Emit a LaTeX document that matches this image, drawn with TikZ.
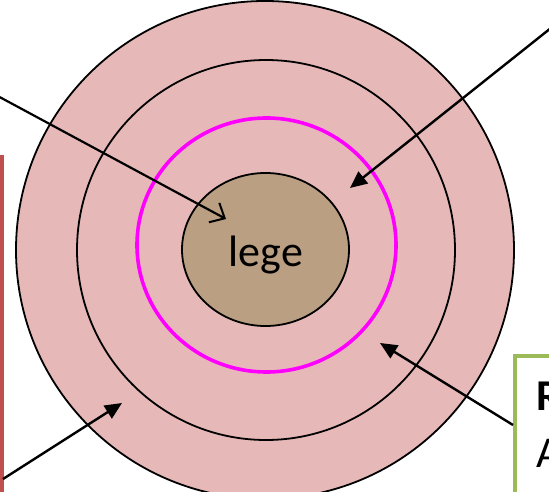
\documentclass[tikz,border=0pt]{standalone}
\usepackage{fontspec}
\setmainfont{Carlito}
\usetikzlibrary{arrows.meta,shapes.geometric}
\definecolor{ringpink}{HTML}{E6B9B8}
\definecolor{coretan}{HTML}{BB9F83}
\definecolor{boxred}{HTML}{C0504D}
\definecolor{boxgreen}{HTML}{9BBB59}
\definecolor{ringmagenta}{RGB}{255,0,255}
\begin{document}
\begin{tikzpicture}[x=1pt,y=-1pt,
  ring/.style={ellipse, draw=black, line width=1.8pt, inner sep=0pt},
  ptr/.style={line width=2.4pt, -{Triangle[length=17pt,width=15pt]}},
  barb/.style={line width=2.2pt, -{Straight Barb[length=12pt,width=22pt,line width=2pt]}},
  sidebox/.style={rectangle, line width=4pt, fill=white, inner sep=0pt, outer sep=0pt},
  big/.style={font=\fontsize{44}{52}\selectfont}]
\useasboundingbox (0,0) rectangle (549,492);
\clip (0,0) rectangle (549,492);
\fill[white] (0,0) rectangle (549,492);
\node[ring, fill=ringpink, minimum width=498pt, minimum height=498pt] (outer) at (265,250) {};
\node[ring, minimum width=378pt, minimum height=380pt] (middle) at (266,250) {};
\node[ellipse, draw=ringmagenta, line width=3.6pt, inner sep=0pt, minimum width=259pt, minimum height=254pt] (magring) at (266.5,245) {};
\node[ring, fill=coretan, minimum width=167pt, minimum height=153pt] (core) at (265.5,249.5) {};
\node[big, anchor=base] (lege) at (266,266) {lege};
\node[sidebox, draw=boxred, minimum width=120pt, minimum height=400pt, anchor=north east] (leftbox) at (2,157) {};
\node[sidebox, draw=boxgreen, minimum width=120pt, minimum height=200pt, anchor=north west] (rightbox) at (514.5,355.5) {};
\node[big, anchor=base west, font=\fontsize{44}{52}\selectfont\bfseries] (rtext) at (533,410) {R};
\node[big, anchor=base west] (atext) at (533,467) {A};
\coordinate (tlstart) at (-6,94);
\coordinate (tlend) at (226,219);
\coordinate (trstart) at (556,24);
\coordinate (trend) at (350,188);
\coordinate (brstart) at (513,425);
\coordinate (brend) at (380,343);
\coordinate (blstart) at (3,479);
\coordinate (blend) at (122,403);
\draw[barb] (tlstart) -- (tlend);
\draw[ptr] (trstart) -- (trend);
\draw[ptr] (brstart) -- (brend);
\draw[ptr] (blstart) -- (blend);
\end{tikzpicture}
\end{document}
